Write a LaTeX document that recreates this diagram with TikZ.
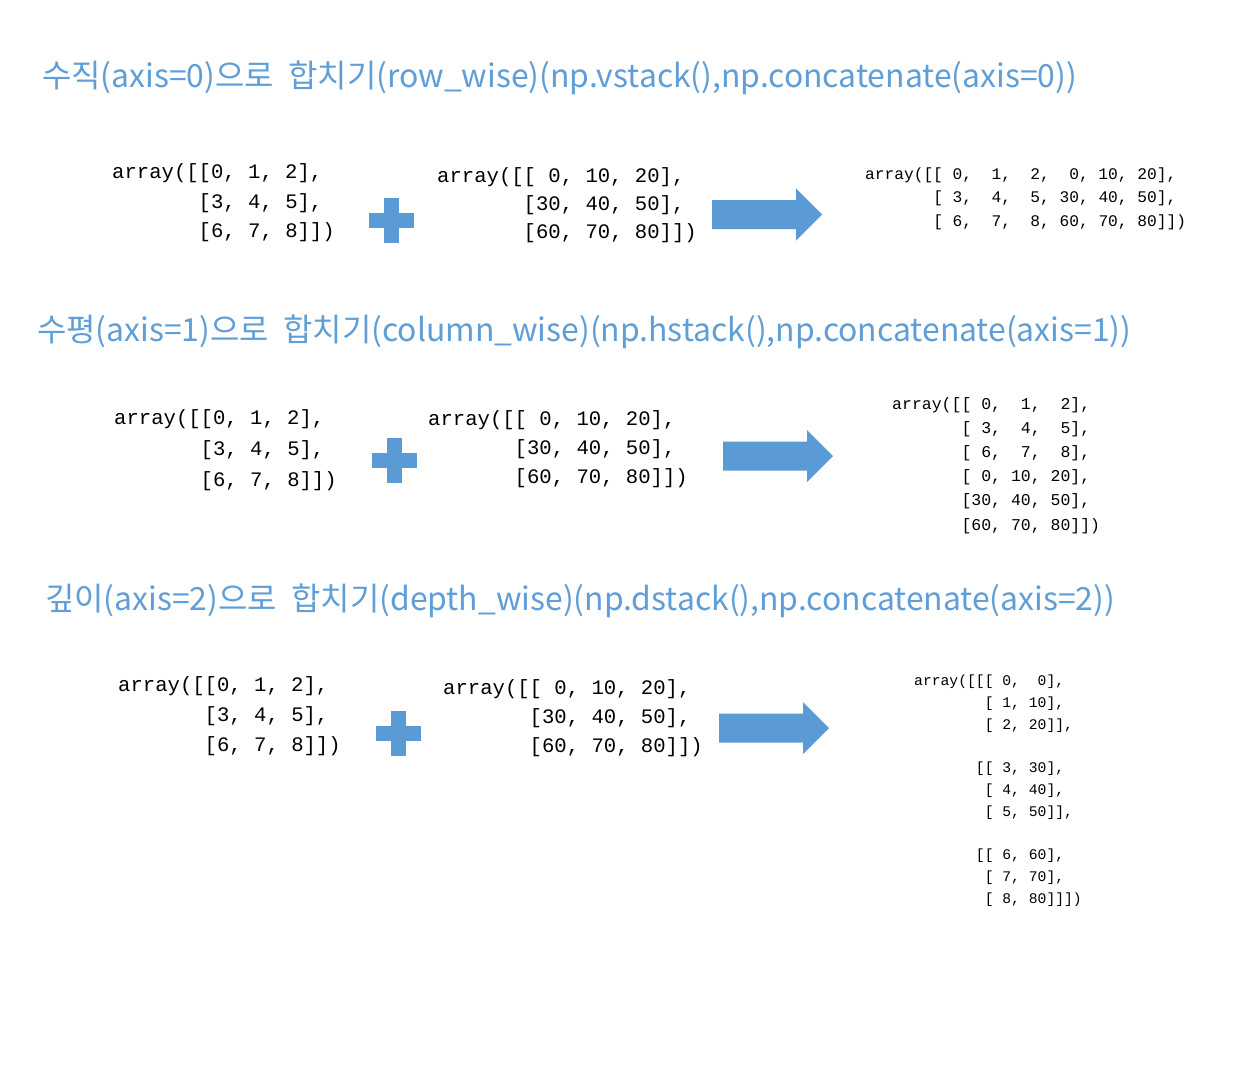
\documentclass[tikz,border=0pt]{standalone}
\usepackage{fontspec}
\newfontfamily\titlefont{Noto Sans CJK KR}
\newfontfamily\codefont{Liberation Mono}
\definecolor{shapeblue}{RGB}{91,155,213}
\definecolor{titleblue}{RGB}{95,158,214}
\tikzset{
  titletext/.style={anchor=west, inner sep=0pt, text=titleblue, font=\titlefont\fontsize{31.9}{36}\selectfont},
  codein/.style={anchor=base west, inner sep=0pt, font=\codefont\fontsize{20.6}{#1}\selectfont},
  codeout/.style 2 args={anchor=base west, inner sep=0pt, font=\codefont\fontsize{#1}{#2}\selectfont},
  plussign/.pic={\fill[shapeblue] (-22.5,-7.5) rectangle (22.5,7.5);
                 \fill[shapeblue] (-7.5,-22.5) rectangle (7.5,22.5);},
  bigarrow/.pic={\fill[shapeblue] (0,-14.5) -- (84,-14.5) -- (84,-26) -- (110,0) -- (84,26) -- (84,14.5) -- (0,14.5) -- cycle;}
}
\begin{document}
\begin{tikzpicture}[x=1pt,y=-1pt]
\useasboundingbox[fill=white] (0,0) rectangle (1240,1072);

% ---- section 1
\node[titletext] (t1) at (42,78) {수직(axis=0)으로\ \ 합치기(row\_wise)(np.vstack(),np.concatenate(axis=0))};
\node[codein=29.5] (a1) at (112,178.5) {\vtop{\hbox{array([[0,~1,~2],}\hbox{~~~~~~~[3,~4,~5],}\hbox{~~~~~~~[6,~7,~8]])}}};
\node[codein=28] (b1) at (437,182.5) {\vtop{\hbox{array([[~0,~10,~20],}\hbox{~~~~~~~[30,~40,~50],}\hbox{~~~~~~~[60,~70,~80]])}}};
\pic at (391,220.5) {plussign};
\pic at (712,214.5) {bigarrow};
\node[codeout={16.2}{23.5}] (r1) at (865,179) {\vtop{\hbox{array([[~0,~~1,~~2,~~0,~10,~20],}\hbox{~~~~~~~[~3,~~4,~~5,~30,~40,~50],}\hbox{~~~~~~~[~6,~~7,~~8,~60,~70,~80]])}}};

% ---- section 2
\node[titletext] (t2) at (37,332) {수평(axis=1)으로\ \ 합치기(column\_wise)(np.hstack(),np.concatenate(axis=1))};
\node[codein=31] (a2) at (114,424.5) {\vtop{\hbox{array([[0,~1,~2],}\hbox{~~~~~~~[3,~4,~5],}\hbox{~~~~~~~[6,~7,~8]])}}};
\node[codein=29] (b2) at (428,425.5) {\vtop{\hbox{array([[~0,~10,~20],}\hbox{~~~~~~~[30,~40,~50],}\hbox{~~~~~~~[60,~70,~80]])}}};
\pic at (394,460) {plussign};
\pic at (723,456) {bigarrow};
\node[codeout={16.5}{24.2}] (r2) at (892,409) {\vtop{\hbox{array([[~0,~~1,~~2],}\hbox{~~~~~~~[~3,~~4,~~5],}\hbox{~~~~~~~[~6,~~7,~~8],}\hbox{~~~~~~~[~0,~10,~20],}\hbox{~~~~~~~[30,~40,~50],}\hbox{~~~~~~~[60,~70,~80]])}}};

% ---- section 3
\node[titletext] (t3) at (45,601) {깊이(axis=2)으로\ \ 합치기(depth\_wise)(np.dstack(),np.concatenate(axis=2))};
\node[codein=30] (a3) at (118,691.5) {\vtop{\hbox{array([[0,~1,~2],}\hbox{~~~~~~~[3,~4,~5],}\hbox{~~~~~~~[6,~7,~8]])}}};
\node[codein=29] (b3) at (443,694.5) {\vtop{\hbox{array([[~0,~10,~20],}\hbox{~~~~~~~[30,~40,~50],}\hbox{~~~~~~~[60,~70,~80]])}}};
\pic at (398,733) {plussign};
\pic at (719,728) {bigarrow};
\node[codeout={14.7}{21.8}] (r3) at (914,685.5) {\vtop{\hbox{array([[[~0,~~0],}\hbox{~~~~~~~~[~1,~10],}\hbox{~~~~~~~~[~2,~20]],}\hbox{}\hbox{~~~~~~~[[~3,~30],}\hbox{~~~~~~~~[~4,~40],}\hbox{~~~~~~~~[~5,~50]],}\hbox{}\hbox{~~~~~~~[[~6,~60],}\hbox{~~~~~~~~[~7,~70],}\hbox{~~~~~~~~[~8,~80]]])}}};
\end{tikzpicture}
\end{document}
